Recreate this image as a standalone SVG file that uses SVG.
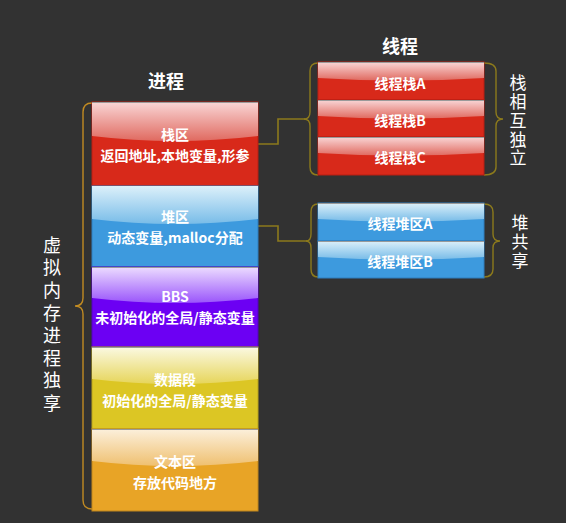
<svg xmlns="http://www.w3.org/2000/svg" width="566" height="523" viewBox="0 0 566 523">
<defs>
<linearGradient id="gRed" x1="0" y1="0" x2="0" y2="1"><stop offset="0" stop-color="#f9d6d6"/><stop offset="1" stop-color="#e06a60"/></linearGradient>
<linearGradient id="gBlue" x1="0" y1="0" x2="0" y2="1"><stop offset="0" stop-color="#dcf0fa"/><stop offset="1" stop-color="#78bce8"/></linearGradient>
<linearGradient id="gPur" x1="0" y1="0" x2="0" y2="1"><stop offset="0" stop-color="#ecdcff"/><stop offset="1" stop-color="#9a55fb"/></linearGradient>
<linearGradient id="gYel" x1="0" y1="0" x2="0" y2="1"><stop offset="0" stop-color="#fbf9e2"/><stop offset="1" stop-color="#e6d55a"/></linearGradient>
<linearGradient id="gOra" x1="0" y1="0" x2="0" y2="1"><stop offset="0" stop-color="#fcf0dc"/><stop offset="1" stop-color="#efc070"/></linearGradient>
</defs>
<style>
.lbl{font-family:"Noto Sans CJK SC","Liberation Sans",sans-serif;font-weight:bold;font-size:14px;fill:#ffffff;text-anchor:middle;dominant-baseline:central}
.ttl{font-family:"Noto Sans CJK SC","Liberation Sans",sans-serif;font-weight:bold;font-size:18px;fill:#ffffff;text-anchor:middle;dominant-baseline:central}
.vt{font-family:"Noto Sans CJK SC",sans-serif;font-size:18px;fill:#ffffff;writing-mode:vertical-rl;text-orientation:upright;letter-spacing:4.6px}
.vt2{font-family:"Noto Sans CJK SC",sans-serif;font-size:17px;fill:#ffffff;writing-mode:vertical-rl;text-orientation:upright;letter-spacing:1.75px}
.brace{fill:none;stroke:#8c7a1c;stroke-width:1.4}
.bigbrace{fill:none;stroke:#c08a22;stroke-width:1.4}
.conn{fill:none;stroke:#8c7a1c;stroke-width:1.6}
.top{stroke:#9a9a9a;stroke-width:1.2}
</style>
<rect width="566" height="523" fill="#323232"/>

<text class="ttl" x="166" y="80">进程</text>
<text class="ttl" x="400" y="45">线程</text>

<g id="connectors">
<path class="bigbrace" d="M92,103 Q83,103 83,112 V298 Q83,306 75,306 Q83,306 83,314 V500 Q83,509 92,509"/>
<path class="conn" d="M258,144 H278 V119 H305"/>
<path class="conn" d="M258,226 H278 V241 H307"/>
<path class="brace" d="M318,63 Q310,63 310,71 V112 Q310,119 304,119 Q310,119 310,126 V167 Q310,175 318,175"/>
<path class="brace" d="M484,63 Q496,63 496,71 V112 Q496,119 503,119 Q496,119 496,126 V167 Q496,175 484,175"/>
<path class="brace" d="M318,204 Q311,204 311,212 V234 Q311,241 306,241 Q311,241 311,248 V269 Q311,277 318,277"/>
<path class="brace" d="M484,204 Q493,204 493,212 V234 Q493,241 500,241 Q493,241 493,248 V269 Q493,277 484,277"/>
</g>

<g id="stack">
<rect x="92" y="102" width="166" height="84" fill="#d8291a" stroke="#b81e12" stroke-width="1"/>
<path d="M92,102 H258 V136 Q175,146 92,136 Z" fill="url(#gRed)"/>
<line class="top" x1="92" y1="102.5" x2="258" y2="102.5"/>
<text class="lbl" x="175" y="134.2">栈区</text>
<text class="lbl" x="175" y="154.8">返回地址,本地变量,形参</text>
</g>

<g id="heap">
<rect x="92" y="186" width="166" height="81" fill="#3d9ade" stroke="#2f7fbf" stroke-width="1"/>
<path d="M92,186 H258 V219 Q175,229 92,219 Z" fill="url(#gBlue)"/>
<text class="lbl" x="175" y="216.2">堆区</text>
<text class="lbl" x="175" y="236.8">动态变量,malloc分配</text>
</g>

<g id="bbs">
<rect x="92" y="267" width="166" height="80" fill="#6c00f3" stroke="#5500c0" stroke-width="1"/>
<path d="M92,267 H258 V298 Q175,308 92,298 Z" fill="url(#gPur)"/>
<line class="top" x1="92" y1="267.5" x2="258" y2="267.5"/>
<text class="lbl" x="175" y="296.2">BBS</text>
<text class="lbl" x="175" y="316.8">未初始化的全局/静态变量</text>
</g>

<g id="data">
<rect x="92" y="347" width="166" height="82" fill="#dcc624" stroke="#b8a21c" stroke-width="1"/>
<path d="M92,347 H258 V379 Q175,389 92,379 Z" fill="url(#gYel)"/>
<line class="top" x1="92" y1="347.5" x2="258" y2="347.5"/>
<text class="lbl" x="175" y="379.2">数据段</text>
<text class="lbl" x="175" y="399.8">初始化的全局/静态变量</text>
</g>

<g id="text">
<rect x="92" y="429" width="166" height="82" fill="#e8a426" stroke="#c0861c" stroke-width="1"/>
<path d="M92,429 H258 V461 Q175,471 92,461 Z" fill="url(#gOra)"/>
<line class="top" x1="92" y1="429.5" x2="258" y2="429.5"/>
<text class="lbl" x="175" y="461.2">文本区</text>
<text class="lbl" x="175" y="481.8">存放代码地方</text>
</g>

<g id="threadStackA">
<rect x="318" y="62" width="166" height="38" fill="#d8291a" stroke="#b81e12" stroke-width="1"/>
<path d="M318,62 H484 V78 Q401,83 318,78 Z" fill="url(#gRed)"/>
<line class="top" x1="318" y1="62.5" x2="484" y2="62.5"/>
<text class="lbl" x="400" y="83">线程栈A</text>
</g>
<g id="threadStackB">
<rect x="318" y="100" width="166" height="37" fill="#d8291a" stroke="#b81e12" stroke-width="1"/>
<path d="M318,100 H484 V116 Q401,121 318,116 Z" fill="url(#gRed)"/>
<line class="top" x1="318" y1="100.5" x2="484" y2="100.5"/>
<text class="lbl" x="400" y="120">线程栈B</text>
</g>
<g id="threadStackC">
<rect x="318" y="137" width="166" height="38" fill="#d8291a" stroke="#b81e12" stroke-width="1"/>
<path d="M318,137 H484 V153 Q401,158 318,153 Z" fill="url(#gRed)"/>
<line class="top" x1="318" y1="137.5" x2="484" y2="137.5"/>
<text class="lbl" x="400" y="157">线程栈C</text>
</g>

<g id="threadHeapA">
<rect x="318" y="203" width="166" height="38" fill="#3d9ade" stroke="#2f7fbf" stroke-width="1"/>
<path d="M318,203 H484 V219 Q401,224 318,219 Z" fill="url(#gBlue)"/>
<line class="top" x1="318" y1="203.5" x2="484" y2="203.5"/>
<text class="lbl" x="400" y="223">线程堆区A</text>
</g>
<g id="threadHeapB">
<rect x="318" y="241" width="166" height="37" fill="#3d9ade" stroke="#2f7fbf" stroke-width="1"/>
<path d="M318,241 H484 V257 Q401,262 318,257 Z" fill="url(#gBlue)"/>
<line class="top" x1="318" y1="241.5" x2="484" y2="241.5"/>
<text class="lbl" x="400" y="261">线程堆区B</text>
</g>

<g id="labelProcess">
<text class="vt" x="52" y="236">虚拟内存进程独享</text>
</g>
<g id="labelStack">
<text class="vt2" x="518" y="74.5">栈相互独立</text>
</g>
<g id="labelHeap">
<text class="vt2" x="520" y="214.5" style="letter-spacing:2px">堆共享</text>
</g>
</svg>
